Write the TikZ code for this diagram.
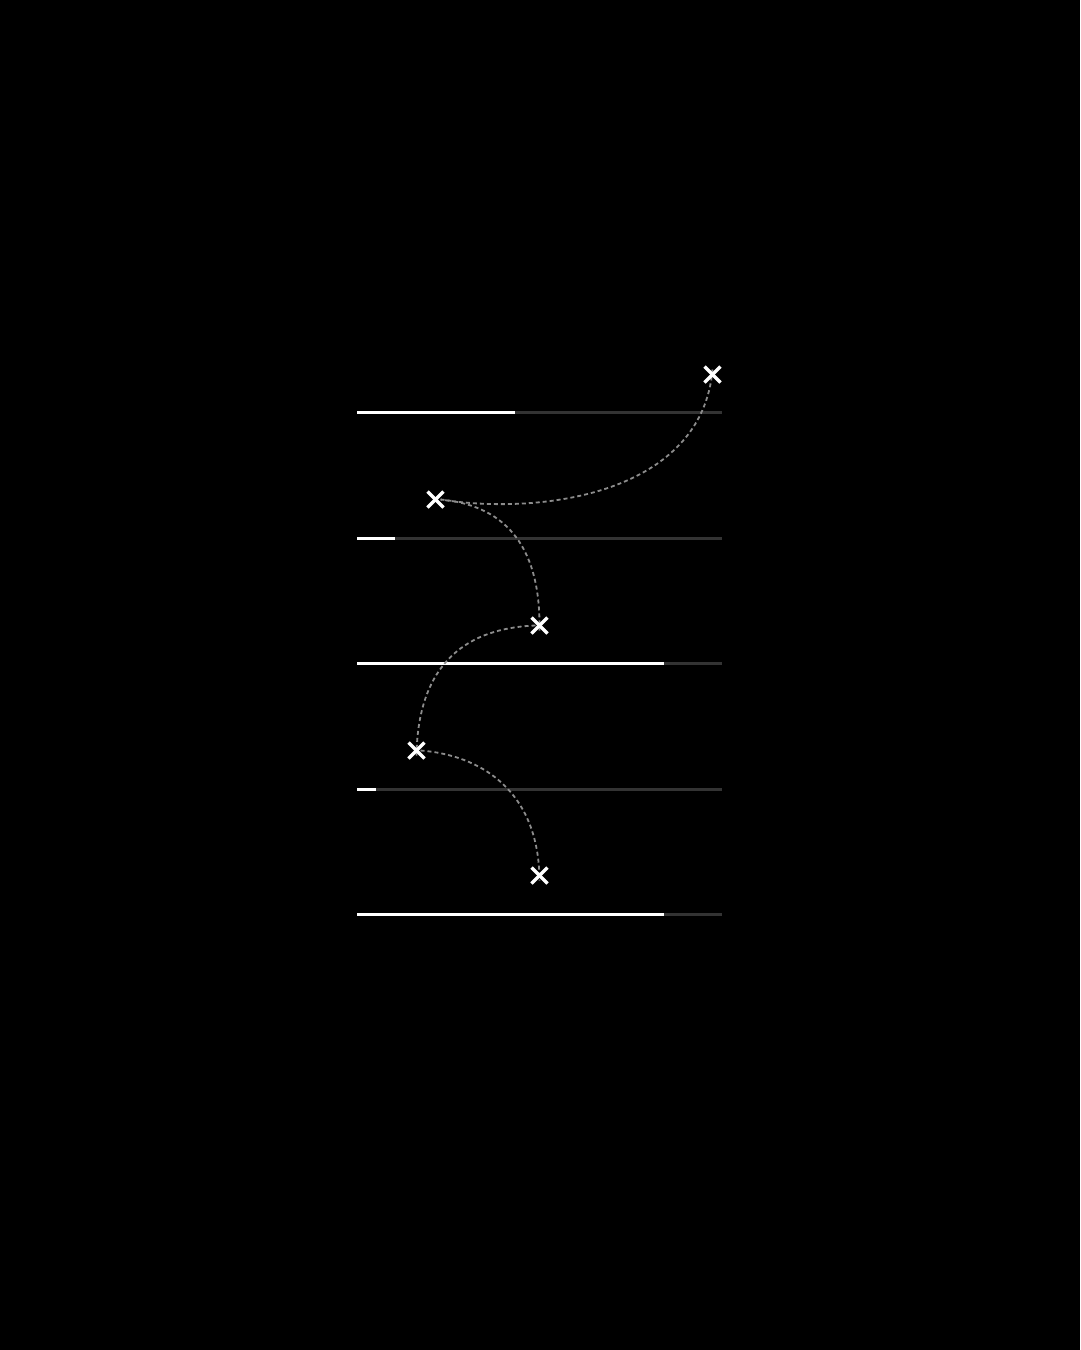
\documentclass[tikz,border=0pt]{standalone}
\begin{document}
\begin{tikzpicture}[x=1pt,y=-1pt,
  track/.style={line width=3.8pt,color=white!20!black},
  fill bar/.style={line width=3.8pt,color=white},
  path link/.style={line width=1.8pt,color=white!55!black,dash pattern=on 4pt off 3pt},
  crossmark/.style={line width=3.4pt,color=white},
  pt/.style={inner sep=0pt,minimum size=0pt}]
\fill[black] (0,0) rectangle (1080,1350);
\useasboundingbox (0,0) rectangle (1080,1350);
% tracks
\foreach \y/\w in {412.5/515,538.5/395,663.5/664,789.5/376,914.5/664}{
  \draw[track] (357,\y) -- (722,\y);
  \draw[fill bar] (357,\y) -- (\w,\y);
}
% marks
\node[pt] (m1) at (712.5,374.5) {};
\node[pt] (m2) at (435.5,499.5) {};
\node[pt] (m3) at (539.5,625.5) {};
\node[pt] (m4) at (416.5,750.5) {};
\node[pt] (m5) at (539.5,875.5) {};
% links
\draw[path link] ([yshift=5pt]m1.center) .. controls (702,492) and (545,516) .. ([xshift=5pt]m2.center);
\draw[path link] ([xshift=5pt]m2.center) .. controls (500,505) and (541,540) .. ([yshift=-5pt]m3.center);
\draw[path link] ([xshift=-4pt]m3.center) .. controls (470,628) and (418,660) .. ([yshift=-5pt]m4.center);
\draw[path link] ([xshift=4pt]m4.center) .. controls (480,755) and (539,790) .. ([yshift=-5pt]m5.center);
% crosses
\foreach \m in {m1,m2,m3,m4,m5}{
  \draw[crossmark] ([shift={(-8,-8)}]\m.center) -- ([shift={(8,8)}]\m.center);
  \draw[crossmark] ([shift={(-8,8)}]\m.center) -- ([shift={(8,-8)}]\m.center);
}
\end{tikzpicture}
\end{document}
